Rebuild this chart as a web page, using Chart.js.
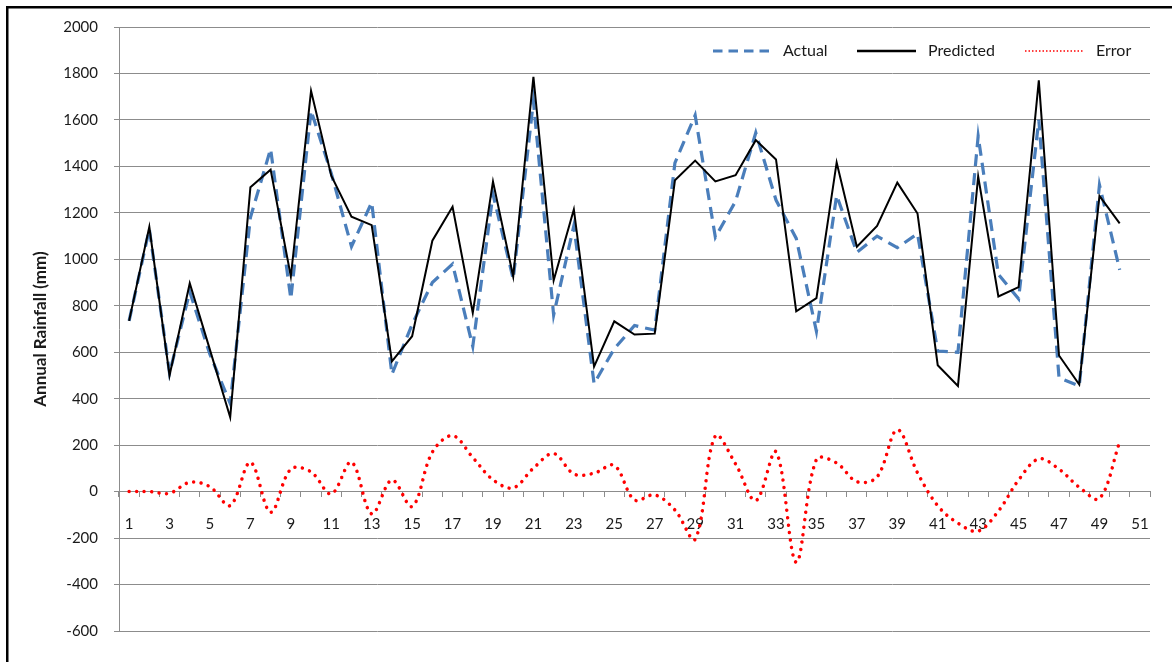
<!DOCTYPE html>
<html>
<head>
<meta charset="utf-8">
<title>Annual Rainfall - Actual vs Predicted</title>
<script src="https://cdn.jsdelivr.net/npm/chart.js@4.4.1/dist/chart.umd.min.js"></script>
<style>
  html, body { margin: 0; padding: 0; background: #fff; overflow: hidden; }
  #wrap { position: relative; width: 1172px; height: 662px; }
</style>
</head>
<body>
<div id="wrap"><canvas id="rainChart"></canvas></div>
<script>
// Category labels (years 1..51 on the axis, data for 1..50)
const categories = ['1','2','3','4','5','6','7','8','9','10','11','12','13','14','15','16','17','18','19','20',
  '21','22','23','24','25','26','27','28','29','30','31','32','33','34','35','36','37','38','39','40',
  '41','42','43','44','45','46','47','48','49','50','51'];

// Values (mm)
const actual = [735, 1130, 510, 860, 590, 380, 1180, 1475, 830, 1640,
  1370, 1055, 1245, 505, 720, 900, 980, 625, 1280, 915,
  1680, 760, 1145, 465, 615, 715, 695, 1415, 1620, 1095,
  1250, 1545, 1255, 1090, 690, 1275, 1030, 1100, 1050, 1110,
  605, 600, 1530, 935, 830, 1600, 490, 455, 1320, 955];

const predicted = [735, 1140, 500, 897, 610, 320, 1310, 1386, 926, 1725,
  1360, 1183, 1147, 561, 669, 1080, 1226, 769, 1335, 926,
  1785, 909, 1215, 538, 733, 676, 680, 1340, 1425, 1335,
  1362, 1513, 1430, 776, 833, 1417, 1054, 1144, 1330, 1197,
  544, 455, 1357, 840, 880, 1770, 586, 461, 1273, 1155];

const error = [0, 0, -7, 40, 21, -60, 126, -89, 97, 85,
  -10, 127, -96, 50, -64, 170, 241, 147, 51, 16,
  101, 164, 76, 79, 113, -36, -14, -79, -205, 240,
  119, -39, 171, -304, 139, 123, 43, 63, 266, 81,
  -61, -136, -170, -84, 50, 141, 97, 19, -30, 214];

const yMin = -600;
const yMax = 2000;
const yStep = 200;

const gridColor = '#8c8c8c';
const textColor = '#1a1a1a';
const fontFamily = 'Lato, "Open Sans", sans-serif';

// Black frame (top and left edges) plus the legend in the top right corner
const frameAndLegend = {
  id: 'frameAndLegend',
  beforeDraw(chart) {
    const ctx = chart.ctx;
    ctx.save();
    ctx.fillStyle = '#000';
    ctx.fillRect(6, 6, chart.width - 6, 2.5);
    ctx.fillRect(6, 6, 2.5, chart.height - 6);
    ctx.restore();
  },
  afterDraw(chart) {
    const ctx = chart.ctx;
    const y = 51;
    const items = [
      { text: 'Actual', x1: 713, x2: 771, tx: 783, color: '#4a7ebb', width: 3, dash: [9.5, 6], cap: 'butt' },
      { text: 'Predicted', x1: 857, x2: 916, tx: 928, color: '#000', width: 2.5, dash: [], cap: 'butt' },
      { text: 'Error', x1: 1025, x2: 1084, tx: 1096, color: '#ff0000', width: 1.5, dash: [1.5, 2], cap: 'butt' }
    ];
    ctx.save();
    items.forEach(it => {
      ctx.beginPath();
      ctx.strokeStyle = it.color;
      ctx.lineWidth = it.width;
      ctx.lineCap = it.cap;
      ctx.setLineDash(it.dash);
      ctx.moveTo(it.x1, y);
      ctx.lineTo(it.x2, y);
      ctx.stroke();
      ctx.setLineDash([]);
      ctx.fillStyle = textColor;
      ctx.font = '16px ' + fontFamily;
      ctx.textBaseline = 'middle';
      ctx.textAlign = 'left';
      ctx.fillText(it.text, it.tx, y);
    });
    ctx.restore();
  }
};

const ctx = document.getElementById('rainChart').getContext('2d');
const rainChart = new Chart(ctx, {
  type: 'line',
  data: {
    labels: categories,
    datasets: [
      {
        label: 'Predicted',
        data: predicted,
        borderColor: '#000',
        borderWidth: 2,
        pointRadius: 0,
        tension: 0,
        order: 0
      },
      {
        label: 'Actual',
        data: actual,
        borderColor: '#4a7ebb',
        borderWidth: 3.2,
        borderDash: [12, 7],
        pointRadius: 0,
        tension: 0,
        order: 1
      },
      {
        label: 'Error',
        data: error,
        borderColor: '#ff0000',
        borderWidth: 3.5,
        borderDash: [0.01, 7.5],
        borderCapStyle: 'round',
        pointRadius: 0,
        tension: 0.35,
        order: 2
      }
    ]
  },
  options: {
    responsive: true,
    maintainAspectRatio: false,
    animation: false,
    layout: { padding: { top: 27, right: 22, bottom: 31, left: 0 } },
    plugins: {
      legend: { display: false },
      tooltip: { enabled: false }
    },
    scales: {
      x: {
        type: 'category',
        position: { y: 0 },
        offset: true,
        grid: {
          drawOnChartArea: false,
          drawTicks: true,
          tickLength: 5,
          color: gridColor,
          offset: true
        },
        border: { display: true, color: gridColor },
        ticks: {
          autoSkip: false,
          maxRotation: 0,
          padding: 19,
          color: textColor,
          font: { family: fontFamily, size: 15 },
          callback: (value, index) => (index % 2 === 0 ? categories[index] : '')
        }
      },
      y: {
        min: yMin,
        max: yMax,
        grid: { color: gridColor, tickLength: 5 },
        border: { color: gridColor },
        ticks: {
          stepSize: yStep,
          padding: 16,
          color: textColor,
          font: { family: fontFamily, size: 15 },
          callback: value => String(value)
        },
        title: {
          display: true,
          text: 'Annual Rainfall (mm)',
          color: textColor,
          font: { family: fontFamily, size: 17, weight: 'bold' },
          padding: { top: 30, bottom: 0 }
        },
        afterFit: scale => { scale.width = 119; }
      }
    }
  },
  plugins: [frameAndLegend]
});
</script>
</body>
</html>
